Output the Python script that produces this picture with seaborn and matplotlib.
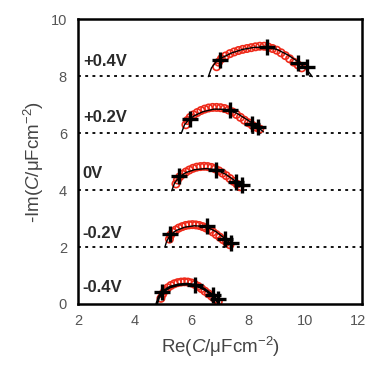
import matplotlib
matplotlib.use("Agg")
import matplotlib.pyplot as plt
import matplotlib.transforms as mtransforms
import seaborn as sns
import pandas as pd

sns.set_theme(style="white")
plt.rcParams['font.family'] = ['Liberation Sans', 'DejaVu Sans']
plt.rcParams['mathtext.fontset'] = 'custom'
plt.rcParams['mathtext.rm'] = 'Liberation Sans'
plt.rcParams['mathtext.it'] = 'Liberation Sans:italic'

labels = ["+0.4V", "+0.2V", "0V", "-0.2V", "-0.4V"]
baselines = [8, 6, 4, 2]
label_y = [8.52, 6.56, 4.57, 2.48, 0.59]

# measured points (red open circles)
circ_p04_x = [6.88, 6.95, 7.05, 7.20, 7.35, 7.50, 7.65, 7.80, 7.95, 8.10, 8.25, 8.40, 8.55, 8.70, 8.85, 9.00, 9.15, 9.30, 9.45, 9.60, 9.75, 9.88]
circ_p04_y = [8.34, 8.50, 8.62, 8.72, 8.80, 8.86, 8.91, 8.95, 8.98, 9.01, 9.04, 9.06, 9.06, 9.03, 8.98, 8.92, 8.83, 8.73, 8.62, 8.50, 8.40, 8.30]
circ_p02_x = [5.80, 5.85, 5.95, 6.07, 6.20, 6.33, 6.46, 6.60, 6.74, 6.88, 7.02, 7.16, 7.30, 7.44, 7.58, 7.72, 7.86, 8.00, 8.14, 8.28, 8.40]
circ_p02_y = [6.30, 6.45, 6.56, 6.65, 6.73, 6.80, 6.85, 6.89, 6.91, 6.91, 6.90, 6.87, 6.82, 6.75, 6.66, 6.56, 6.46, 6.37, 6.28, 6.21, 6.15]
circ_0_x = [5.45, 5.50, 5.58, 5.68, 5.80, 5.92, 6.05, 6.18, 6.31, 6.44, 6.57, 6.70, 6.83, 6.96, 7.09, 7.22, 7.35, 7.48, 7.60, 7.70]
circ_0_y = [4.22, 4.36, 4.47, 4.56, 4.64, 4.71, 4.77, 4.81, 4.83, 4.84, 4.83, 4.80, 4.75, 4.68, 4.60, 4.51, 4.41, 4.31, 4.21, 4.12]
circ_m02_x = [5.22, 5.26, 5.34, 5.44, 5.55, 5.67, 5.79, 5.91, 6.03, 6.15, 6.27, 6.39, 6.51, 6.63, 6.75, 6.87, 6.99, 7.11, 7.23, 7.35]
circ_m02_y = [2.28, 2.42, 2.52, 2.60, 2.67, 2.72, 2.76, 2.78, 2.79, 2.78, 2.76, 2.72, 2.67, 2.61, 2.53, 2.44, 2.35, 2.26, 2.17, 2.08]
circ_m04_x = [4.92, 4.98, 5.06, 5.16, 5.27, 5.39, 5.51, 5.63, 5.75, 5.87, 5.99, 6.11, 6.23, 6.35, 6.47, 6.59, 6.71, 6.83, 6.94]
circ_m04_y = [0.20, 0.35, 0.47, 0.57, 0.65, 0.71, 0.75, 0.77, 0.78, 0.77, 0.74, 0.69, 0.62, 0.54, 0.45, 0.36, 0.27, 0.17, 0.08]

# fitted curves (black lines)
fit_p04_x = [6.59, 6.70, 6.85, 7.00, 7.40, 7.80, 8.20, 8.60, 9.00, 9.40, 9.80, 10.05, 10.25]
fit_p04_y = [7.99, 8.30, 8.50, 8.62, 8.82, 8.95, 9.02, 9.03, 8.95, 8.75, 8.48, 8.25, 7.99]
fit_p02_x = [5.65, 5.75, 5.90, 6.10, 6.40, 6.80, 7.20, 7.60, 8.00, 8.30, 8.53]
fit_p02_y = [6.03, 6.30, 6.48, 6.62, 6.76, 6.85, 6.84, 6.70, 6.45, 6.25, 6.05]
fit_0_x = [5.30, 5.40, 5.57, 5.80, 6.10, 6.50, 6.86, 7.20, 7.50, 7.70, 7.80]
fit_0_y = [3.98, 4.25, 4.47, 4.62, 4.72, 4.76, 4.72, 4.56, 4.35, 4.18, 4.08]
fit_m02_x = [5.06, 5.12, 5.24, 5.45, 5.75, 6.10, 6.50, 6.85, 7.15, 7.40]
fit_m02_y = [2.00, 2.20, 2.42, 2.58, 2.70, 2.75, 2.72, 2.55, 2.32, 2.10]
fit_m04_x = [4.77, 4.85, 5.00, 5.25, 5.55, 5.85, 6.15, 6.45, 6.75, 6.95]
fit_m04_y = [0.00, 0.25, 0.45, 0.60, 0.68, 0.70, 0.66, 0.52, 0.30, 0.05]

# plus markers
plus_p04_x = [7.00, 8.64, 9.73, 10.08]
plus_p04_y = [8.58, 9.02, 8.48, 8.34]
plus_p02_x = [5.94, 7.35, 8.12, 8.35]
plus_p02_y = [6.50, 6.82, 6.32, 6.21]
plus_0_x = [5.57, 6.86, 7.56, 7.76]
plus_0_y = [4.50, 4.71, 4.30, 4.18]
plus_m02_x = [5.24, 6.53, 7.18, 7.39]
plus_m02_y = [2.46, 2.74, 2.27, 2.13]
plus_m04_x = [4.97, 6.12, 6.76, 6.92]
plus_m04_y = [0.42, 0.67, 0.32, 0.16]

circles = [(circ_p04_x, circ_p04_y), (circ_p02_x, circ_p02_y), (circ_0_x, circ_0_y),
           (circ_m02_x, circ_m02_y), (circ_m04_x, circ_m04_y)]
fits = [(fit_p04_x, fit_p04_y), (fit_p02_x, fit_p02_y), (fit_0_x, fit_0_y),
        (fit_m02_x, fit_m02_y), (fit_m04_x, fit_m04_y)]
pluses = [(plus_p04_x, plus_p04_y), (plus_p02_x, plus_p02_y), (plus_0_x, plus_0_y),
          (plus_m02_x, plus_m02_y), (plus_m04_x, plus_m04_y)]
fit_lw = [1.0, 1.0, 1.0, 1.0, 2.0]

fig = plt.figure(figsize=(3.69, 3.72), dpi=100)
ax = fig.add_axes([0.2114, 0.1828, 0.7696, 0.7648])

for b in baselines:
    ax.axhline(b, color='black', lw=1.3, linestyle=(0, (1.6, 2.4)), zorder=1)

for i, lab in enumerate(labels):
    cx, cy = circles[i]
    df_c = pd.DataFrame({'x': cx, 'y': cy})
    sns.scatterplot(data=df_c, x='x', y='y', ax=ax, marker='o', s=28,
                    facecolors='none', edgecolor='#ee2a1a', linewidth=1.2, zorder=2)
    fx, fy = fits[i]
    df_f = pd.DataFrame({'x': fx, 'y': fy})
    sns.lineplot(data=df_f, x='x', y='y', ax=ax, sort=False, color='black',
                 lw=fit_lw[i], zorder=3)
    px, py = pluses[i]
    df_p = pd.DataFrame({'x': px, 'y': py})
    sns.scatterplot(data=df_p, x='x', y='y', ax=ax, marker='+', s=140,
                    color='black', linewidth=2.4, zorder=4)
    ax.text(2.17, label_y[i], lab, fontsize=12, fontweight='bold',
            color='#2a2a2a', ha='left', va='center')

ax.set_xlim(2, 12)
ax.set_ylim(0, 10)
ax.set_xticks([2, 4, 6, 8, 10, 12])
ax.set_yticks([0, 2, 4, 6, 8, 10])
ax.tick_params(direction='in', length=10, width=1.6, colors='black',
               labelcolor='#555555', labelsize=10.5)
ax.tick_params(axis='y', pad=8)
ax.tick_params(axis='x', pad=7)
for s in ax.spines.values():
    s.set_linewidth(1.8)
    s.set_color('black')

ax.set_xlabel(r'Re($\mathit{C}$/μFcm$^{-2}$)', fontsize=13.5, color='#444444', labelpad=5)
ax.set_ylabel(r'-Im($\mathit{C}$/μFcm$^{-2}$)', fontsize=13.5, color='#444444', labelpad=3)

fig.canvas.draw()
last = ax.xaxis.get_major_ticks()[-1].label1
last.set_transform(last.get_transform() +
                   mtransforms.ScaledTranslation(-4 / 100, 0, fig.dpi_scale_trans))

fig.savefig('out.png', dpi=100)
